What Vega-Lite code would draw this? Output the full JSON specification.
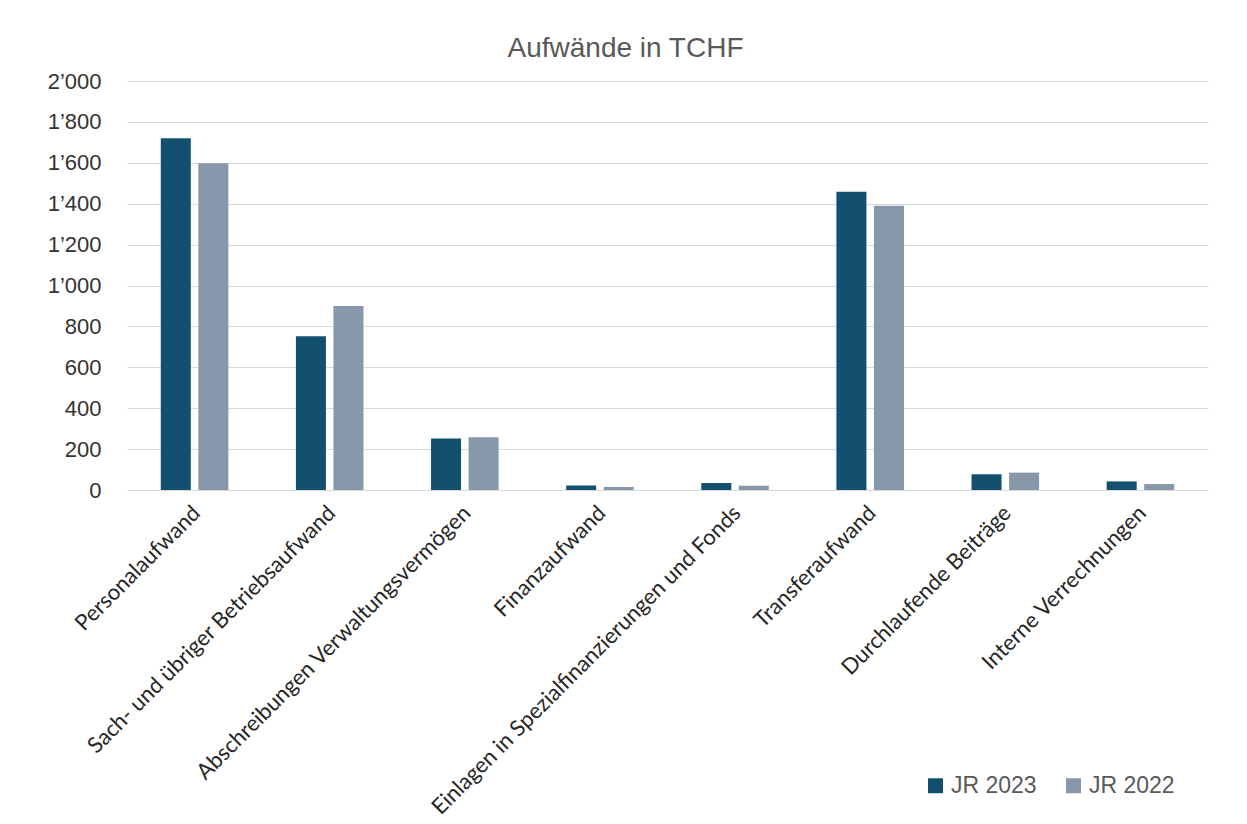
{
  "$schema": "https://vega.github.io/schema/vega-lite/v6.json",
  "width": 1081,
  "height": 409,
  "autosize": {"type": "none"},
  "padding": {"left": 127, "top": 81, "right": 39, "bottom": 334},
  "background": "white",
  "title": {
    "text": "Aufwände in TCHF",
    "font": "Liberation Sans",
    "fontSize": 28,
    "fontWeight": "normal",
    "color": "#595959",
    "anchor": "middle",
    "dx": -42,
    "offset": 7
  },
  "data": {
    "values": [
      {"kategorie": "Personalaufwand", "jahr": "JR 2023", "wert": 1720},
      {"kategorie": "Personalaufwand", "jahr": "JR 2022", "wert": 1598},
      {"kategorie": "Sach- und übriger Betriebsaufwand", "jahr": "JR 2023", "wert": 752},
      {"kategorie": "Sach- und übriger Betriebsaufwand", "jahr": "JR 2022", "wert": 900},
      {"kategorie": "Abschreibungen Verwaltungsvermögen", "jahr": "JR 2023", "wert": 252},
      {"kategorie": "Abschreibungen Verwaltungsvermögen", "jahr": "JR 2022", "wert": 258},
      {"kategorie": "Finanzaufwand", "jahr": "JR 2023", "wert": 22},
      {"kategorie": "Finanzaufwand", "jahr": "JR 2022", "wert": 15},
      {"kategorie": "Einlagen in Spezialfinanzierungen und Fonds", "jahr": "JR 2023", "wert": 34},
      {"kategorie": "Einlagen in Spezialfinanzierungen und Fonds", "jahr": "JR 2022", "wert": 21},
      {"kategorie": "Transferaufwand", "jahr": "JR 2023", "wert": 1458},
      {"kategorie": "Transferaufwand", "jahr": "JR 2022", "wert": 1390},
      {"kategorie": "Durchlaufende Beiträge", "jahr": "JR 2023", "wert": 77},
      {"kategorie": "Durchlaufende Beiträge", "jahr": "JR 2022", "wert": 85},
      {"kategorie": "Interne Verrechnungen", "jahr": "JR 2023", "wert": 42},
      {"kategorie": "Interne Verrechnungen", "jahr": "JR 2022", "wert": 29}
    ]
  },
  "mark": {"type": "bar"},
  "encoding": {
    "x": {
      "field": "kategorie",
      "type": "nominal",
      "sort": null,
      "scale": {"paddingInner": 0.5, "paddingOuter": 0.25},
      "axis": {
        "title": null,
        "labelAngle": -45,
        "labelFont": "Lato",
        "labelFontSize": 22,
        "labelColor": "#262626",
        "labelPadding": 12,
        "labelOffset": -5,
        "ticks": false,
        "domain": false,
        "labelLimit": 0
      }
    },
    "xOffset": {
      "field": "jahr",
      "type": "nominal",
      "sort": ["JR 2023", "JR 2022"],
      "scale": {"paddingInner": 0.2, "paddingOuter": 0}
    },
    "y": {
      "field": "wert",
      "type": "quantitative",
      "scale": {"domain": [0, 2000]},
      "axis": {
        "title": null,
        "values": [0, 200, 400, 600, 800, 1000, 1200, 1400, 1600, 1800, 2000],
        "labelExpr": "replace(format(datum.value, ','), ',', '’')",
        "labelFont": "Liberation Sans",
        "labelFontSize": 22,
        "labelColor": "#333333",
        "labelPadding": 26,
        "ticks": false,
        "domain": false,
        "grid": true,
        "gridColor": "#d9d9d9",
        "gridWidth": 1.2
      }
    },
    "color": {
      "field": "jahr",
      "type": "nominal",
      "scale": {"domain": ["JR 2023", "JR 2022"], "range": ["#13506f", "#8798aa"]},
      "legend": {
        "title": null,
        "orient": "none",
        "direction": "horizontal",
        "legendX": 797,
        "legendY": 693,
        "symbolType": "square",
        "symbolSize": 225,
        "symbolStrokeWidth": 0,
        "labelFont": "Liberation Sans",
        "labelFontSize": 23,
        "labelColor": "#595959",
        "labelOffset": 4,
        "columnPadding": 25
      }
    }
  },
  "config": {
    "view": {"stroke": null}
  }
}
